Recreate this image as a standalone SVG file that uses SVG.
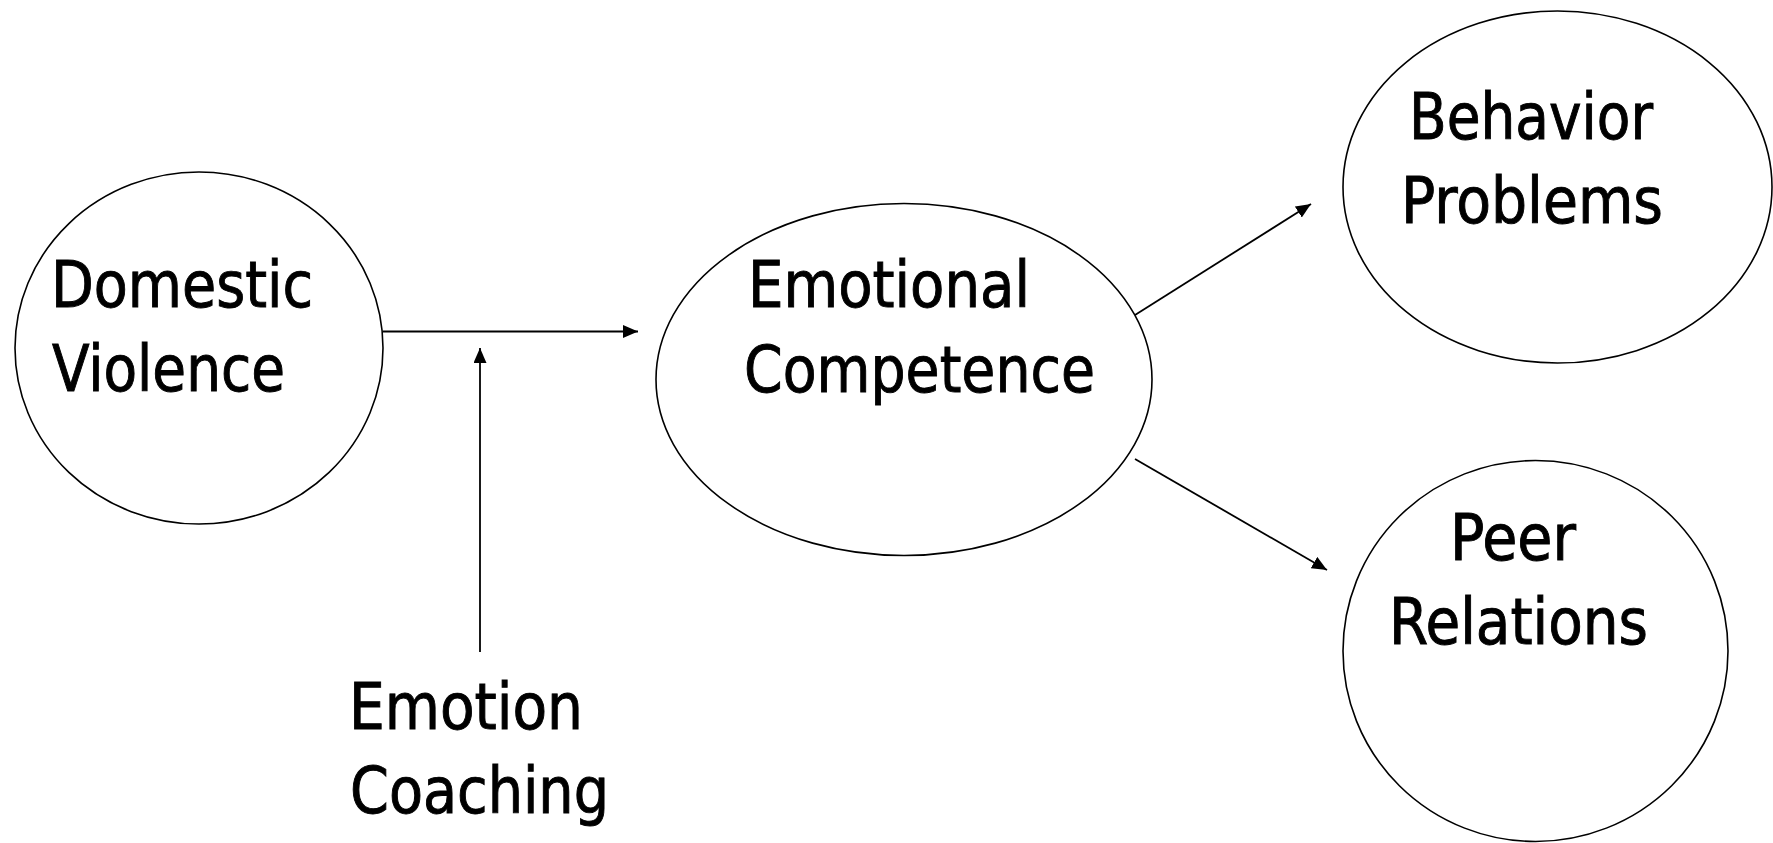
<svg xmlns="http://www.w3.org/2000/svg" width="1773" height="843" viewBox="0 0 1773 843">
<style>
.node{fill:#fff;stroke:#000;stroke-width:1.6}
.lbl{font-family:"DejaVu Sans Condensed","DejaVu Sans",sans-serif;font-size:64px;fill:#000;stroke:#000;stroke-width:0.9}
.conn line{stroke:#000;stroke-width:1.8}
</style>
<defs>
<marker id="ah" viewBox="0 0 15 13" refX="15" refY="6.5" markerWidth="15" markerHeight="13" markerUnits="userSpaceOnUse" orient="auto">
<path d="M0,0 L15,6.5 L0,13 Z" fill="#000"/>
</marker>
</defs>
<rect width="1773" height="843" fill="#fff"/>
<g id="domestic-violence">
<ellipse class="node" cx="199" cy="348" rx="184" ry="176"/>
<text class="lbl" x="51" y="307" textLength="262" lengthAdjust="spacingAndGlyphs">Domestic</text>
<text class="lbl" x="52" y="391" textLength="233" lengthAdjust="spacingAndGlyphs">Violence</text>
</g>
<g id="emotional-competence">
<ellipse class="node" cx="904" cy="379.5" rx="248" ry="176"/>
<text class="lbl" x="748" y="307" textLength="282" lengthAdjust="spacingAndGlyphs">Emotional</text>
<text class="lbl" x="744" y="392" textLength="351" lengthAdjust="spacingAndGlyphs">Competence</text>
</g>
<g id="behavior-problems">
<ellipse class="node" cx="1557.5" cy="187" rx="214.5" ry="176"/>
<text class="lbl" x="1409" y="139" textLength="244" lengthAdjust="spacingAndGlyphs">Behavior</text>
<text class="lbl" x="1401" y="223" textLength="262" lengthAdjust="spacingAndGlyphs">Problems</text>
</g>
<g id="peer-relations">
<ellipse class="node" cx="1535.5" cy="651" rx="192.5" ry="190.5"/>
<text class="lbl" x="1450" y="560" textLength="126" lengthAdjust="spacingAndGlyphs">Peer</text>
<text class="lbl" x="1389" y="644" textLength="259" lengthAdjust="spacingAndGlyphs">Relations</text>
</g>
<g id="emotion-coaching">
<text class="lbl" x="349" y="729" textLength="234" lengthAdjust="spacingAndGlyphs">Emotion</text>
<text class="lbl" x="350" y="813" textLength="259" lengthAdjust="spacingAndGlyphs">Coaching</text>
</g>
<g id="connectors" class="conn">
<line x1="383" y1="331.5" x2="638" y2="331.5" marker-end="url(#ah)"/>
<line x1="480" y1="652" x2="480" y2="348" marker-end="url(#ah)"/>
<line x1="1135" y1="315" x2="1311" y2="204" marker-end="url(#ah)"/>
<line x1="1135" y1="459" x2="1327" y2="570" marker-end="url(#ah)"/>
</g>
</svg>
